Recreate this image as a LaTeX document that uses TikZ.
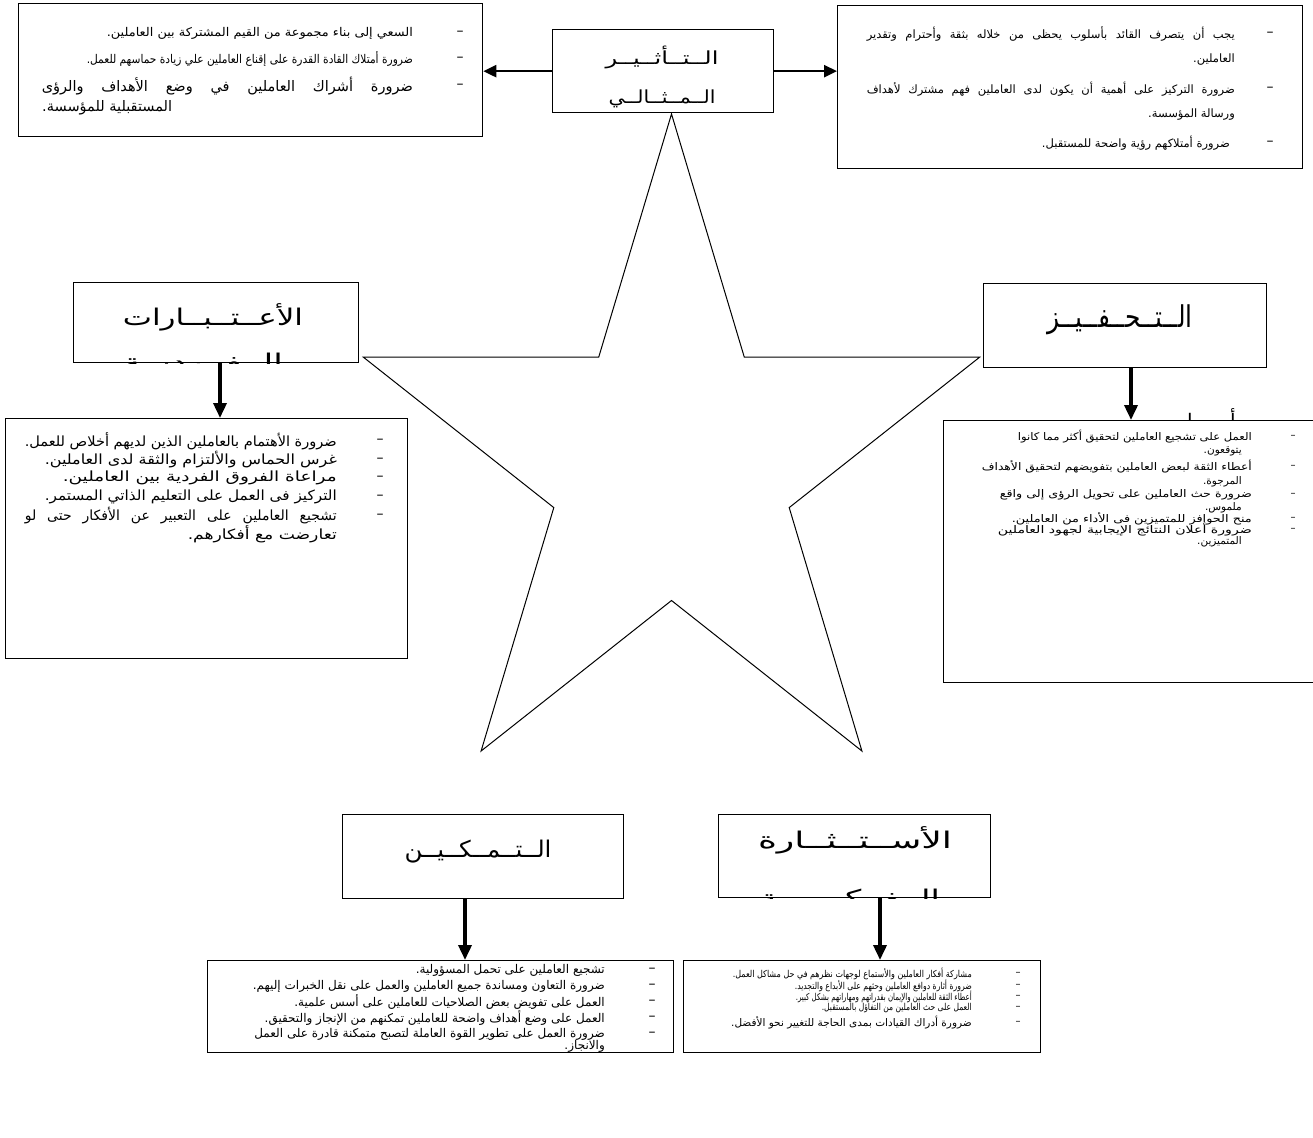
\documentclass[tikz,border=0pt]{standalone}
\usepackage{fontspec}
\usepackage{graphicx}
\usetikzlibrary{arrows.meta}
\setmainfont{DejaVu Sans}
\newfontfamily\arfont[Script=Arabic]{DejaVu Sans}
\TeXXeTstate=1
\newcommand\fsz[1]{\fontsize{#1}{#1}\selectfont}
\begin{document}
\begin{tikzpicture}[x=1pt,y=-1pt,
  box/.style={draw, line width=1.3pt, fill=white, inner sep=0pt},
  ln/.style={inner sep=0pt, font=\arfont},
  dsh/.style={inner sep=0pt, font=\fontsize{14}{14}\selectfont},
  sdsh/.style={inner sep=0pt, font=\fontsize{10}{10}\selectfont},
  arr/.style={line width=3.5pt, -{Triangle[length=15pt,width=13pt]}},
  harr/.style={line width=2.5pt, -{Triangle[length=13pt,width=12pt]}}]
\useasboundingbox (0,0) rectangle (1313,1137);
\fill[white] (0,0) rectangle (1313,1137);
% star
\draw[line width=1pt, line join=miter] (671.5,114) -- (744.3,357.2) -- (979.6,357.2) -- (789.2,507.6) -- (861.9,751) -- (671.5,600.5) -- (481.1,751) -- (553.8,507.6) -- (363.4,357.2) -- (598.7,357.2) -- cycle;
% boxes
\node[box, anchor=north west, minimum width=464pt, minimum height=133pt] (tlb) at (18,3) {};
\node[box, anchor=north west, minimum width=221pt, minimum height=83pt] (ttl) at (552,29) {};
\node[box, anchor=north west, minimum width=465pt, minimum height=163pt] (trb) at (837,5) {};
\node[box, anchor=north west, minimum width=285pt, minimum height=80pt] (lmt) at (73,282) {};
\node[box, anchor=north west, minimum width=402pt, minimum height=240pt] (lml) at (5,418) {};
\node[box, anchor=north west, minimum width=283pt, minimum height=84pt] (rmt) at (983,283) {};
\node[ln, anchor=base] (sa1) at (1233,428) {\fsz{20}\beginR أ\endR};
\node[ln, anchor=base] (sa2) at (1190,428) {\fsz{20}\beginR ا\endR};
\node[box, anchor=north west, minimum width=380pt, minimum height=262pt] (rml) at (943,420) {};
\node[box, anchor=north west, minimum width=281pt, minimum height=84pt] (blt) at (342,814) {};
\node[box, anchor=north west, minimum width=466pt, minimum height=92pt] (bll) at (207,960) {};
\node[box, anchor=north west, minimum width=272pt, minimum height=83pt] (brt) at (718,814) {};
\node[box, anchor=north west, minimum width=357pt, minimum height=92pt] (brl) at (683,960) {};
% titles
\begin{scope}
\clip (ttl.north west) rectangle (ttl.south east);
\node[ln, anchor=base] (tt1) at (662,65) {\fsz{18}\resizebox{113pt}{\height}{\beginR الــتــأثــيــر\endR}};
\node[ln, anchor=base] (tt2) at (662,103) {\fsz{18}\resizebox{107pt}{\height}{\beginR الــمــثــالــي\endR}};
\end{scope}
\begin{scope}
\clip (lmt.north west) rectangle (lmt.south east);
\node[ln, anchor=base] (lt1) at (213,325) {\fsz{23}\resizebox{180pt}{\height}{\beginR الأعــتــبــارات\endR}};
\node[ln, anchor=base] (lt2) at (203,370) {\fsz{23}\resizebox{160pt}{\height}{\beginR الــفــرديــة\endR}};
\end{scope}
\node[ln, anchor=base] (rt1) at (1120,327) {\fsz{30}\resizebox{145pt}{\height}{\beginR الــتــحــفــيــز\endR}};
\node[ln, anchor=base] (bt1) at (478,857) {\fsz{23}\resizebox{147pt}{\height}{\beginR الــتــمــكــيــن\endR}};
\begin{scope}
\clip (brt.north west) rectangle (brt.south east);
\node[ln, anchor=base] (ct1) at (855,848) {\fsz{23}\resizebox{194pt}{\height}{\beginR الأســتــثــارة\endR}};
\node[ln, anchor=base] (ct2) at (850,906) {\fsz{23}\resizebox{180pt}{\height}{\beginR الــفــكــريــة\endR}};
\end{scope}
% arrows
\draw[harr] (ttl.west) -- (tlb.east |- ttl.west);
\draw[harr] (ttl.east) -- (trb.west |- ttl.east);
\coordinate (xa) at (220,0);
\coordinate (xb) at (1131,0);
\coordinate (xc) at (465,0);
\coordinate (xd) at (880,0);
\draw[arr] (lmt.south -| xa) -- (lml.north -| xa);
\draw[arr] (rmt.south -| xb) -- (rml.north -| xb);
\draw[arr] (blt.south -| xc) -- (bll.north -| xc);
\draw[arr] (brt.south -| xd) -- (brl.north -| xd);
% top-left text
\node[ln, anchor=east] (t1) at (413,33) {\fsz{12}\resizebox{306pt}{\height}{\beginR السعي إلى بناء مجموعة من القيم المشتركة بين العاملين.\endR}};
\node[ln, anchor=east] (t2) at (413,59) {\fsz{12}\resizebox{326pt}{\height}{\beginR ضرورة أمتلاك القادة القدرة على إقناع العاملين علي زيادة حماسهم للعمل.\endR}};
\node[ln, anchor=east] (t3) at (413,86) {\fsz{14.5}\hbox to 371pt{\beginR ضرورة أشراك العاملين في وضع الأهداف والرؤى\endR}};
\node[ln, anchor=west] (t4) at (42,108) {\fsz{14.5}\beginR المستقبلية للمؤسسة.\endR};
\node[dsh] (d1) at (460,33) {–};
\node[dsh] (d2) at (460,59) {–};
\node[dsh] (d3) at (460,86) {–};
% top-right text
\node[ln, anchor=east] (r1) at (1235,34) {\fsz{11.5}\hbox to 368pt{\beginR يجب أن يتصرف القائد بأسلوب يحظى من خلاله بثقة وأحترام وتقدير\endR}};
\node[ln, anchor=east] (r2) at (1235,60) {\fsz{11.5}\beginR العاملين.\endR};
\node[ln, anchor=east] (r3) at (1235,89) {\fsz{11.5}\hbox to 368pt{\beginR ضرورة التركيز على أهمية أن يكون لدى العاملين فهم مشترك لأهداف\endR}};
\node[ln, anchor=east] (r4) at (1235,115) {\fsz{11.5}\beginR ورسالة المؤسسة.\endR};
\node[ln, anchor=east] (r5) at (1230,143) {\fsz{11.5}\beginR ضرورة أمتلاكهم رؤية واضحة للمستقبل.\endR};
\node[dsh] (e1) at (1270,34) {–};
\node[dsh] (e2) at (1270,89) {–};
\node[dsh] (e3) at (1270,143) {–};
% left-middle text
\node[ln, anchor=east] (m1) at (337,441) {\fsz{14}\resizebox{312pt}{\height}{\beginR ضرورة الأهتمام بالعاملين الذين لديهم أخلاص للعمل.\endR}};
\node[ln, anchor=east] (m2) at (337,460) {\fsz{14}\resizebox{292pt}{\height}{\beginR غرس الحماس والألتزام والثقة لدى العاملين.\endR}};
\node[ln, anchor=east] (m3) at (337,478) {\fsz{14}\resizebox{274pt}{\height}{\beginR مراعاة الفروق الفردية بين العاملين.\endR}};
\node[ln, anchor=east] (m4) at (337,497) {\fsz{14}\resizebox{292pt}{\height}{\beginR التركيز فى العمل على التعليم الذاتي المستمر.\endR}};
\node[ln, anchor=east] (m5) at (337,516) {\fsz{14}\hbox to 312pt{\beginR تشجيع العاملين على التعبير عن الأفكار حتى لو\endR}};
\node[ln, anchor=east] (m6) at (337,534) {\fsz{14}\resizebox{149pt}{\height}{\beginR تعارضت مع أفكارهم.\endR}};
\foreach \yy/\nm in {441/f1,460/f2,478/f3,497/f4,516/f5} \node[dsh] (\nm) at (380,\yy) {–};
% right-middle text
\node[ln, anchor=east] (n1) at (1252,437) {\fsz{10.5}\resizebox{234pt}{\height}{\beginR العمل على تشجيع العاملين لتحقيق أكثر مما كانوا\endR}};
\node[ln, anchor=east] (n2) at (1242,451) {\fsz{10.5}\beginR يتوقعون.\endR};
\node[ln, anchor=east] (n3) at (1252,467) {\fsz{10.5}\resizebox{270pt}{\height}{\beginR أعطاء الثقة لبعض العاملين بتفويضهم لتحقيق الأهداف\endR}};
\node[ln, anchor=east] (n4) at (1242,482) {\fsz{10.5}\beginR المرجوة.\endR};
\node[ln, anchor=east] (n5) at (1252,495) {\fsz{10.5}\resizebox{252pt}{\height}{\beginR ضرورة حث العاملين على تحويل الرؤى إلى واقع\endR}};
\node[ln, anchor=east] (n6) at (1242,508) {\fsz{10.5}\beginR ملموس.\endR};
\node[ln, anchor=east] (n7) at (1252,519) {\fsz{10.5}\resizebox{240pt}{\height}{\beginR منح الحوافز للمتميزين فى الأداء من العاملين.\endR}};
\node[ln, anchor=east] (n8) at (1252,530) {\fsz{10.5}\resizebox{254pt}{\height}{\beginR ضرورة أعلان النتائج الإيجابية لجهود العاملين\endR}};
\node[ln, anchor=east] (n9) at (1242,542) {\fsz{10.5}\beginR المتميزين.\endR};
\foreach \yy/\nm in {437/g1,467/g2,495/g3,519/g4,530/g5} \node[sdsh] (\nm) at (1293,\yy) {–};
% bottom-left text
\node[ln, anchor=east] (b1) at (605,970) {\fsz{12}\beginR تشجيع العاملين على تحمل المسؤولية.\endR};
\node[ln, anchor=east] (b2) at (605,986) {\fsz{12}\beginR ضرورة التعاون ومساندة جميع العاملين والعمل على نقل الخبرات إليهم.\endR};
\node[ln, anchor=east] (b3) at (605,1002) {\fsz{12}\beginR العمل على تفويض بعض الصلاحيات للعاملين على أسس علمية.\endR};
\node[ln, anchor=east] (b4) at (605,1018) {\fsz{12}\beginR العمل على وضع أهداف واضحة للعاملين تمكنهم من الإنجاز والتحقيق.\endR};
\node[ln, anchor=east] (b5) at (605,1034) {\fsz{12}\beginR ضرورة العمل على تطوير القوة العاملة لتصبح متمكنة قادرة على العمل\endR};
\node[ln, anchor=east] (b6) at (605,1046) {\fsz{12}\beginR والانجاز.\endR};
\foreach \yy/\nm in {970/h1,986/h2,1002/h3,1018/h4,1034/h5} \node[dsh] (\nm) at (652,\yy) {–};
% bottom-right text
\node[ln, anchor=east] (c1) at (972,974) {\fsz{9.5}\resizebox{239pt}{\height}{\beginR مشاركة أفكار العاملين والأستماع لوجهات نظرهم في حل مشاكل العمل.\endR}};
\node[ln, anchor=east] (c2) at (972,986) {\fsz{9.5}\resizebox{177pt}{\height}{\beginR ضرورة أثارة دوافع العاملين وحثهم على الأبداع والتجديد.\endR}};
\node[ln, anchor=east] (c3) at (972,997) {\fsz{9.5}\resizebox{176pt}{\height}{\beginR أعطاء الثقة للعاملين والإيمان بقدراتهم ومهاراتهم بشكل كبير.\endR}};
\node[ln, anchor=east] (c4) at (972,1008) {\fsz{9.5}\resizebox{150pt}{\height}{\beginR العمل على حث العاملين من التفاؤل بالمستقبل.\endR}};
\node[ln, anchor=east] (c5) at (972,1023) {\fsz{10.5}\beginR ضرورة أدراك القيادات بمدى الحاجة للتغيير نحو الأفضل.\endR};
\foreach \yy/\nm in {974/k1,986/k2,997/k3,1008/k4,1023/k5} \node[sdsh] (\nm) at (1018,\yy) {–};
\end{tikzpicture}
\end{document}
